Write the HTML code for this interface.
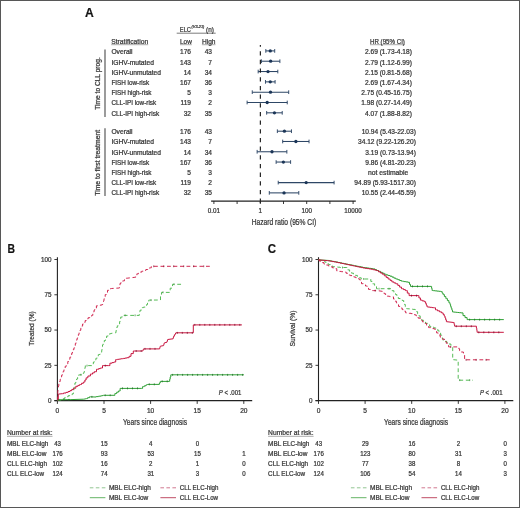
<!DOCTYPE html>
<html><head><meta charset="utf-8"><style>
html,body{margin:0;padding:0;background:#fff;}
svg{display:block;font-family:"Liberation Sans", sans-serif;}
text{-webkit-font-smoothing:antialiased;stroke:#3a3a3a;stroke-width:0.24px;}
</style></head><body>
<svg style="will-change:transform" width="520" height="508" viewBox="0 0 520 508" fill="#333">
<rect x="0.5" y="0.5" width="519" height="507" fill="#fff" stroke="#575757" stroke-width="1"/>
<text x="84.90" y="16.90" font-size="12.1" fill="#111" font-weight="bold">A</text>
<text x="179.80" y="31.60" font-size="6.6" textLength="11.20" lengthAdjust="spacingAndGlyphs">ELC</text>
<text x="191.60" y="28.40" font-size="4.0" textLength="12.80" lengthAdjust="spacingAndGlyphs" font-style="italic">(V3-21)</text>
<text x="206.10" y="31.60" font-size="6.6" textLength="7.80" lengthAdjust="spacingAndGlyphs">(n)</text>
<line x1="176.70" y1="33.20" x2="215.70" y2="33.20" stroke="#444" stroke-width="0.7"/>
<text x="111.20" y="43.70" font-size="6.6" textLength="37.00" lengthAdjust="spacingAndGlyphs">Stratification</text>
<line x1="111.20" y1="44.70" x2="148.20" y2="44.70" stroke="#555" stroke-width="0.5"/>
<text x="180.00" y="43.70" font-size="6.6" textLength="11.80" lengthAdjust="spacingAndGlyphs">Low</text>
<line x1="180.00" y1="44.70" x2="191.80" y2="44.70" stroke="#555" stroke-width="0.5"/>
<text x="201.90" y="43.70" font-size="6.6" textLength="13.60" lengthAdjust="spacingAndGlyphs">High</text>
<line x1="201.90" y1="44.70" x2="215.50" y2="44.70" stroke="#555" stroke-width="0.5"/>
<text x="370.00" y="43.70" font-size="6.6" textLength="34.90" lengthAdjust="spacingAndGlyphs">HR (95% CI)</text>
<line x1="370.00" y1="44.70" x2="404.90" y2="44.70" stroke="#555" stroke-width="0.5"/>
<text x="111.40" y="54.30" font-size="6.6" textLength="21.20" lengthAdjust="spacingAndGlyphs">Overall</text>
<text x="191.00" y="54.30" font-size="6.6" text-anchor="end">176</text>
<text x="212.00" y="54.30" font-size="6.6" text-anchor="end">43</text>
<text x="411.90" y="54.30" font-size="6.6" text-anchor="end">2.69 (1.73-4.18)</text>
<line x1="265.82" y1="50.90" x2="274.71" y2="50.90" stroke="#2e4766" stroke-width="1.05"/>
<line x1="265.82" y1="49.05" x2="265.82" y2="52.75" stroke="#2e4766" stroke-width="0.95"/>
<line x1="274.71" y1="49.05" x2="274.71" y2="52.75" stroke="#2e4766" stroke-width="0.95"/>
<circle cx="270.27" cy="50.90" r="1.65" fill="#1b3557"/>
<text x="111.40" y="64.50" font-size="6.6" textLength="42.50" lengthAdjust="spacingAndGlyphs">IGHV-mutated</text>
<text x="191.00" y="64.50" font-size="6.6" text-anchor="end">143</text>
<text x="212.00" y="64.50" font-size="6.6" text-anchor="end">7</text>
<text x="411.90" y="64.50" font-size="6.6" text-anchor="end">2.79 (1.12-6.99)</text>
<line x1="261.44" y1="61.22" x2="279.89" y2="61.22" stroke="#2e4766" stroke-width="1.05"/>
<line x1="261.44" y1="59.37" x2="261.44" y2="63.07" stroke="#2e4766" stroke-width="0.95"/>
<line x1="279.89" y1="59.37" x2="279.89" y2="63.07" stroke="#2e4766" stroke-width="0.95"/>
<circle cx="270.64" cy="61.22" r="1.65" fill="#1b3557"/>
<text x="111.40" y="74.70" font-size="6.6" textLength="49.60" lengthAdjust="spacingAndGlyphs">IGHV-unmutated</text>
<text x="191.00" y="74.70" font-size="6.6" text-anchor="end">14</text>
<text x="212.00" y="74.70" font-size="6.6" text-anchor="end">34</text>
<text x="411.90" y="74.70" font-size="6.6" text-anchor="end">2.15 (0.81-5.68)</text>
<line x1="258.18" y1="71.54" x2="277.80" y2="71.54" stroke="#2e4766" stroke-width="1.05"/>
<line x1="258.18" y1="69.69" x2="258.18" y2="73.39" stroke="#2e4766" stroke-width="0.95"/>
<line x1="277.80" y1="69.69" x2="277.80" y2="73.39" stroke="#2e4766" stroke-width="0.95"/>
<circle cx="268.01" cy="71.54" r="1.65" fill="#1b3557"/>
<text x="111.40" y="84.90" font-size="6.6" textLength="37.70" lengthAdjust="spacingAndGlyphs">FISH low-risk</text>
<text x="191.00" y="84.90" font-size="6.6" text-anchor="end">167</text>
<text x="212.00" y="84.90" font-size="6.6" text-anchor="end">36</text>
<text x="411.90" y="84.90" font-size="6.6" text-anchor="end">2.69 (1.67-4.34)</text>
<line x1="265.47" y1="81.86" x2="275.09" y2="81.86" stroke="#2e4766" stroke-width="1.05"/>
<line x1="265.47" y1="80.01" x2="265.47" y2="83.71" stroke="#2e4766" stroke-width="0.95"/>
<line x1="275.09" y1="80.01" x2="275.09" y2="83.71" stroke="#2e4766" stroke-width="0.95"/>
<circle cx="270.27" cy="81.86" r="1.65" fill="#1b3557"/>
<text x="111.40" y="95.10" font-size="6.6" textLength="40.10" lengthAdjust="spacingAndGlyphs">FISH high-risk</text>
<text x="191.00" y="95.10" font-size="6.6" text-anchor="end">5</text>
<text x="212.00" y="95.10" font-size="6.6" text-anchor="end">3</text>
<text x="411.90" y="95.10" font-size="6.6" text-anchor="end">2.75 (0.45-16.75)</text>
<line x1="252.25" y1="92.18" x2="288.70" y2="92.18" stroke="#2e4766" stroke-width="1.05"/>
<line x1="252.25" y1="90.33" x2="252.25" y2="94.03" stroke="#2e4766" stroke-width="0.95"/>
<line x1="288.70" y1="90.33" x2="288.70" y2="94.03" stroke="#2e4766" stroke-width="0.95"/>
<circle cx="270.49" cy="92.18" r="1.65" fill="#1b3557"/>
<text x="111.40" y="105.30" font-size="6.6" textLength="44.80" lengthAdjust="spacingAndGlyphs">CLL-IPI low-risk</text>
<text x="191.00" y="105.30" font-size="6.6" text-anchor="end">119</text>
<text x="212.00" y="105.30" font-size="6.6" text-anchor="end">2</text>
<text x="411.90" y="105.30" font-size="6.6" text-anchor="end">1.98 (0.27-14.49)</text>
<line x1="247.11" y1="102.50" x2="287.24" y2="102.50" stroke="#2e4766" stroke-width="1.05"/>
<line x1="247.11" y1="100.65" x2="247.11" y2="104.35" stroke="#2e4766" stroke-width="0.95"/>
<line x1="287.24" y1="100.65" x2="287.24" y2="104.35" stroke="#2e4766" stroke-width="0.95"/>
<circle cx="267.18" cy="102.50" r="1.65" fill="#1b3557"/>
<text x="111.40" y="115.50" font-size="6.6" textLength="47.70" lengthAdjust="spacingAndGlyphs">CLL-IPI high-risk</text>
<text x="191.00" y="115.50" font-size="6.6" text-anchor="end">32</text>
<text x="212.00" y="115.50" font-size="6.6" text-anchor="end">35</text>
<text x="411.90" y="115.50" font-size="6.6" text-anchor="end">4.07 (1.88-8.82)</text>
<line x1="266.66" y1="112.82" x2="282.23" y2="112.82" stroke="#2e4766" stroke-width="1.05"/>
<line x1="266.66" y1="110.97" x2="266.66" y2="114.67" stroke="#2e4766" stroke-width="0.95"/>
<line x1="282.23" y1="110.97" x2="282.23" y2="114.67" stroke="#2e4766" stroke-width="0.95"/>
<circle cx="274.44" cy="112.82" r="1.65" fill="#1b3557"/>
<text x="111.40" y="134.20" font-size="6.6" textLength="21.20" lengthAdjust="spacingAndGlyphs">Overall</text>
<text x="191.00" y="134.20" font-size="6.6" text-anchor="end">176</text>
<text x="212.00" y="134.20" font-size="6.6" text-anchor="end">43</text>
<text x="415.90" y="134.20" font-size="6.6" text-anchor="end">10.94 (5.43-22.03)</text>
<line x1="277.35" y1="131.20" x2="291.46" y2="131.20" stroke="#2e4766" stroke-width="1.05"/>
<line x1="277.35" y1="129.35" x2="277.35" y2="133.05" stroke="#2e4766" stroke-width="0.95"/>
<line x1="291.46" y1="129.35" x2="291.46" y2="133.05" stroke="#2e4766" stroke-width="0.95"/>
<circle cx="284.41" cy="131.20" r="1.65" fill="#1b3557"/>
<text x="111.40" y="144.40" font-size="6.6" textLength="42.50" lengthAdjust="spacingAndGlyphs">IGHV-mutated</text>
<text x="191.00" y="144.40" font-size="6.6" text-anchor="end">143</text>
<text x="212.00" y="144.40" font-size="6.6" text-anchor="end">7</text>
<text x="415.90" y="144.40" font-size="6.6" text-anchor="end">34.12 (9.22-126.20)</text>
<line x1="282.68" y1="141.48" x2="309.04" y2="141.48" stroke="#2e4766" stroke-width="1.05"/>
<line x1="282.68" y1="139.63" x2="282.68" y2="143.33" stroke="#2e4766" stroke-width="0.95"/>
<line x1="309.04" y1="139.63" x2="309.04" y2="143.33" stroke="#2e4766" stroke-width="0.95"/>
<circle cx="295.87" cy="141.48" r="1.65" fill="#1b3557"/>
<text x="111.40" y="154.60" font-size="6.6" textLength="49.60" lengthAdjust="spacingAndGlyphs">IGHV-unmutated</text>
<text x="191.00" y="154.60" font-size="6.6" text-anchor="end">14</text>
<text x="212.00" y="154.60" font-size="6.6" text-anchor="end">34</text>
<text x="415.90" y="154.60" font-size="6.6" text-anchor="end">3.19 (0.73-13.94)</text>
<line x1="257.13" y1="151.76" x2="286.85" y2="151.76" stroke="#2e4766" stroke-width="1.05"/>
<line x1="257.13" y1="149.91" x2="257.13" y2="153.61" stroke="#2e4766" stroke-width="0.95"/>
<line x1="286.85" y1="149.91" x2="286.85" y2="153.61" stroke="#2e4766" stroke-width="0.95"/>
<circle cx="271.99" cy="151.76" r="1.65" fill="#1b3557"/>
<text x="111.40" y="164.80" font-size="6.6" textLength="37.70" lengthAdjust="spacingAndGlyphs">FISH low-risk</text>
<text x="191.00" y="164.80" font-size="6.6" text-anchor="end">167</text>
<text x="212.00" y="164.80" font-size="6.6" text-anchor="end">36</text>
<text x="415.90" y="164.80" font-size="6.6" text-anchor="end">9.86 (4.81-20.23)</text>
<line x1="276.13" y1="162.04" x2="290.60" y2="162.04" stroke="#2e4766" stroke-width="1.05"/>
<line x1="276.13" y1="160.19" x2="276.13" y2="163.89" stroke="#2e4766" stroke-width="0.95"/>
<line x1="290.60" y1="160.19" x2="290.60" y2="163.89" stroke="#2e4766" stroke-width="0.95"/>
<circle cx="283.36" cy="162.04" r="1.65" fill="#1b3557"/>
<text x="111.40" y="175.00" font-size="6.6" textLength="40.10" lengthAdjust="spacingAndGlyphs">FISH high-risk</text>
<text x="191.00" y="175.00" font-size="6.6" text-anchor="end">5</text>
<text x="212.00" y="175.00" font-size="6.6" text-anchor="end">3</text>
<text x="388.20" y="175.00" font-size="6.6" text-anchor="middle" textLength="40.30" lengthAdjust="spacingAndGlyphs">not estimable</text>
<text x="111.40" y="185.20" font-size="6.6" textLength="44.80" lengthAdjust="spacingAndGlyphs">CLL-IPI low-risk</text>
<text x="191.00" y="185.20" font-size="6.6" text-anchor="end">119</text>
<text x="212.00" y="185.20" font-size="6.6" text-anchor="end">2</text>
<text x="415.90" y="185.20" font-size="6.6" text-anchor="end">94.89 (5.93-1517.30)</text>
<line x1="278.23" y1="182.60" x2="334.10" y2="182.60" stroke="#2e4766" stroke-width="1.05"/>
<line x1="278.23" y1="180.75" x2="278.23" y2="184.45" stroke="#2e4766" stroke-width="0.95"/>
<line x1="334.10" y1="180.75" x2="334.10" y2="184.45" stroke="#2e4766" stroke-width="0.95"/>
<circle cx="306.17" cy="182.60" r="1.65" fill="#1b3557"/>
<text x="111.40" y="195.40" font-size="6.6" textLength="47.70" lengthAdjust="spacingAndGlyphs">CLL-IPI high-risk</text>
<text x="191.00" y="195.40" font-size="6.6" text-anchor="end">32</text>
<text x="212.00" y="195.40" font-size="6.6" text-anchor="end">35</text>
<text x="415.90" y="195.40" font-size="6.6" text-anchor="end">10.55 (2.44-45.59)</text>
<line x1="269.29" y1="192.88" x2="298.79" y2="192.88" stroke="#2e4766" stroke-width="1.05"/>
<line x1="269.29" y1="191.03" x2="269.29" y2="194.73" stroke="#2e4766" stroke-width="0.95"/>
<line x1="298.79" y1="191.03" x2="298.79" y2="194.73" stroke="#2e4766" stroke-width="0.95"/>
<circle cx="284.04" cy="192.88" r="1.65" fill="#1b3557"/>
<line x1="105.00" y1="49.40" x2="105.00" y2="117.00" stroke="#4a4a4a" stroke-width="1.1"/>
<line x1="105.00" y1="128.30" x2="105.00" y2="196.00" stroke="#4a4a4a" stroke-width="1.1"/>
<text x="0.00" y="0.00" font-size="6.6" text-anchor="middle" textLength="52.50" lengthAdjust="spacingAndGlyphs" transform="translate(100.2,83.5) rotate(-90)">Time to CLL prog.</text>
<text x="0.00" y="0.00" font-size="6.6" text-anchor="middle" textLength="65.80" lengthAdjust="spacingAndGlyphs" transform="translate(100.2,162.8) rotate(-90)">Time to first treatment</text>
<line x1="260.35" y1="45.00" x2="260.35" y2="203.00" stroke="#111" stroke-width="1.1" stroke-dasharray="4.3,4.37" stroke-dashoffset="2.47"/>
<line x1="211.10" y1="201.05" x2="355.80" y2="201.05" stroke="#222" stroke-width="1.2"/>
<line x1="213.90" y1="201.05" x2="213.90" y2="204.00" stroke="#222" stroke-width="0.9"/>
<line x1="237.10" y1="201.05" x2="237.10" y2="204.00" stroke="#222" stroke-width="0.9"/>
<line x1="260.30" y1="201.05" x2="260.30" y2="204.00" stroke="#222" stroke-width="0.9"/>
<line x1="283.50" y1="201.05" x2="283.50" y2="204.00" stroke="#222" stroke-width="0.9"/>
<line x1="306.70" y1="201.05" x2="306.70" y2="204.00" stroke="#222" stroke-width="0.9"/>
<line x1="329.90" y1="201.05" x2="329.90" y2="204.00" stroke="#222" stroke-width="0.9"/>
<line x1="353.10" y1="201.05" x2="353.10" y2="204.00" stroke="#222" stroke-width="0.9"/>
<text x="213.90" y="212.80" font-size="6.3" text-anchor="middle">0.01</text>
<text x="260.30" y="212.80" font-size="6.3" text-anchor="middle">1</text>
<text x="306.70" y="212.80" font-size="6.3" text-anchor="middle">100</text>
<text x="353.10" y="212.80" font-size="6.3" text-anchor="middle">10000</text>
<text x="284.00" y="224.80" font-size="8.4" text-anchor="middle" textLength="64.50" lengthAdjust="spacingAndGlyphs">Hazard ratio (95% CI)</text>
<text x="7.50" y="252.80" font-size="12.0" fill="#111" font-weight="bold" textLength="7.50" lengthAdjust="spacingAndGlyphs">B</text>
<line x1="57.40" y1="257.20" x2="57.40" y2="400.60" stroke="#222" stroke-width="1.1"/>
<line x1="54.40" y1="400.60" x2="252.20" y2="400.60" stroke="#222" stroke-width="1.2"/>
<line x1="54.40" y1="400.60" x2="57.40" y2="400.60" stroke="#222" stroke-width="0.9"/>
<text x="51.50" y="402.80" font-size="6.3" text-anchor="end">0</text>
<line x1="57.40" y1="400.60" x2="57.40" y2="403.90" stroke="#222" stroke-width="0.9"/>
<text x="57.40" y="412.80" font-size="6.6" text-anchor="middle">0</text>
<line x1="54.40" y1="365.33" x2="57.40" y2="365.33" stroke="#222" stroke-width="0.9"/>
<text x="51.50" y="367.53" font-size="6.3" text-anchor="end">25</text>
<line x1="104.00" y1="400.60" x2="104.00" y2="403.90" stroke="#222" stroke-width="0.9"/>
<text x="104.00" y="412.80" font-size="6.6" text-anchor="middle">5</text>
<line x1="54.40" y1="330.05" x2="57.40" y2="330.05" stroke="#222" stroke-width="0.9"/>
<text x="51.50" y="332.25" font-size="6.3" text-anchor="end">50</text>
<line x1="150.60" y1="400.60" x2="150.60" y2="403.90" stroke="#222" stroke-width="0.9"/>
<text x="150.60" y="412.80" font-size="6.6" text-anchor="middle">10</text>
<line x1="54.40" y1="294.78" x2="57.40" y2="294.78" stroke="#222" stroke-width="0.9"/>
<text x="51.50" y="296.98" font-size="6.3" text-anchor="end">75</text>
<line x1="197.20" y1="400.60" x2="197.20" y2="403.90" stroke="#222" stroke-width="0.9"/>
<text x="197.20" y="412.80" font-size="6.6" text-anchor="middle">15</text>
<line x1="54.40" y1="259.50" x2="57.40" y2="259.50" stroke="#222" stroke-width="0.9"/>
<text x="51.50" y="261.70" font-size="6.3" text-anchor="end">100</text>
<line x1="243.80" y1="400.60" x2="243.80" y2="403.90" stroke="#222" stroke-width="0.9"/>
<text x="243.80" y="412.80" font-size="6.6" text-anchor="middle">20</text>
<text x="0.00" y="0.00" font-size="7.4" text-anchor="middle" textLength="34.30" lengthAdjust="spacingAndGlyphs" transform="translate(33.8,328.5) rotate(-90)">Treated (%)</text>
<text x="155.00" y="424.80" font-size="8.8" text-anchor="middle" textLength="64.00" lengthAdjust="spacingAndGlyphs">Years since diagnosis</text>
<text x="218.80" y="395.00" font-size="6.4" textLength="22.60" lengthAdjust="spacingAndGlyphs"><tspan font-style="italic">P</tspan> &lt; .001</text>
<path d="M57.4,399.8 L70.9,399.6 L83.8,399.2 L86.7,398.6 L87.6,398.6 L87.6,397.7 L89.5,397.7 L89.5,396.8 L90.4,396.8 L95.0,397.0 L96.2,397.0 L96.2,396.6 L98.5,396.6 L98.5,396.2 L100.8,396.2 L100.8,395.8 L101.9,395.8 L103.7,395.3 L114.0,395.3 L114.9,395.3 L114.9,393.5 L115.8,393.5 L116.7,393.5 L116.7,392.2 L118.4,392.2 L118.4,391.0 L119.2,391.0 L120.1,391.0 L120.1,388.4 L121.0,388.4 L141.7,388.4 L142.6,388.4 L142.6,386.6 L143.4,386.6 L144.3,386.6 L144.3,385.8 L146.0,385.8 L146.0,384.9 L146.9,384.9 L147.8,384.4 L159.0,384.4 L159.4,384.4 L159.4,382.9 L160.3,382.9 L160.3,381.4 L160.7,381.4 L169.4,381.4 L169.7,381.4 L169.7,379.2 L170.2,379.2 L170.2,377.0 L170.8,377.0 L170.8,374.8 L171.1,374.8 L243.9,374.8" fill="none" stroke="#2ea034" stroke-width="1.0" stroke-linejoin="miter"/>
<path d="M57.4,400.3 L62.0,399.8 L62.9,399.8 L62.9,398.8 L64.6,398.8 L64.6,397.7 L66.3,397.7 L66.3,396.7 L67.2,396.7 L68.2,396.7 L68.2,395.7 L70.2,395.7 L70.2,394.7 L72.3,394.7 L72.3,393.7 L73.3,393.7 L73.5,393.7 L73.5,391.6 L73.8,391.6 L73.8,389.4 L74.0,389.4 L74.0,387.3 L74.3,387.3 L74.3,385.1 L74.5,385.1 L74.9,385.1 L74.9,383.1 L75.8,383.1 L75.8,381.0 L76.6,381.0 L76.6,379.0 L77.0,379.0 L77.6,379.0 L77.6,376.9 L78.8,376.9 L78.8,374.8 L79.4,374.8 L83.0,374.8 L83.3,374.8 L83.3,373.2 L84.0,373.2 L84.0,371.7 L84.3,371.7 L84.5,371.7 L84.5,369.7 L84.9,369.7 L84.9,367.6 L85.3,367.6 L85.3,365.6 L85.5,365.6 L91.6,365.6 L92.2,365.6 L92.2,363.8 L93.4,363.8 L93.4,362.0 L94.0,362.0 L94.6,362.0 L94.6,360.1 L95.9,360.1 L95.9,358.3 L96.5,358.3 L97.1,358.3 L97.1,356.5 L98.3,356.5 L98.3,354.6 L98.9,354.6 L101.3,354.0 L101.4,354.0 L101.4,352.2 L101.7,352.2 L101.7,350.4 L102.0,350.4 L102.0,348.5 L102.2,348.5 L102.2,346.7 L102.5,346.7 L102.5,344.9 L102.6,344.9 L103.2,344.9 L103.2,342.7 L104.3,342.7 L104.3,340.5 L105.5,340.5 L105.5,338.3 L106.6,338.3 L106.6,336.1 L107.2,336.1 L108.1,336.1 L108.1,334.8 L109.8,334.8 L109.8,333.5 L110.7,333.5 L115.8,332.7 L116.0,332.7 L116.0,331.0 L116.2,331.0 L116.2,329.2 L116.5,329.2 L116.5,327.5 L116.7,327.5 L117.3,327.5 L117.3,325.8 L118.6,325.8 L118.6,324.0 L119.3,324.0 L119.6,324.0 L119.6,321.7 L120.1,321.7 L120.1,319.4 L120.7,319.4 L120.7,317.1 L121.0,317.1 L122.3,317.1 L122.3,315.4 L123.6,315.4 L139.2,315.4 L139.3,315.4 L139.3,313.7 L139.7,313.7 L139.7,311.9 L140.0,311.9 L140.0,310.2 L140.1,310.2 L141.4,310.2 L141.4,307.6 L142.7,307.6 L143.5,307.6 L143.5,307.1 L145.2,307.1 L145.2,306.7 L146.1,306.7 L146.6,306.7 L146.6,304.5 L147.5,304.5 L147.5,302.4 L147.9,302.4 L148.8,302.4 L148.8,300.1 L149.6,300.1 L160.5,300.0 L160.5,296.6 L161.5,296.6 L161.5,292.4 L170.2,292.4 L170.2,288.2 L172.5,288.2 L172.5,284.3 L182.3,284.3" fill="none" stroke="#4db84d" stroke-width="0.95" stroke-linejoin="miter" stroke-dasharray="3.8,2.7"/>
<path d="M58.3,400.3 L58.3,394.1 L62.3,393.7 L63.5,393.7 L63.5,393.0 L66.0,393.0 L66.0,392.4 L67.2,392.4 L68.1,392.4 L68.1,391.5 L70.0,391.5 L70.0,390.6 L70.9,390.6 L71.8,390.6 L71.8,389.4 L73.6,389.4 L73.6,388.2 L74.5,388.2 L75.8,388.2 L75.8,386.3 L77.0,386.3 L77.9,386.3 L77.9,385.4 L79.7,385.4 L79.7,384.5 L80.6,384.5 L81.5,384.5 L81.5,383.3 L83.4,383.3 L83.4,382.1 L84.3,382.1 L84.9,382.1 L84.9,380.0 L86.1,380.0 L86.1,377.8 L86.7,377.8 L87.9,377.8 L87.9,376.0 L90.4,376.0 L90.4,374.1 L91.6,374.1 L92.5,374.1 L92.5,372.9 L94.3,372.9 L94.3,371.7 L95.2,371.7 L96.5,371.7 L96.5,369.3 L97.7,369.3 L98.6,369.3 L98.6,368.6 L100.4,368.6 L100.4,368.0 L101.3,368.0 L102.5,368.0 L102.5,365.6 L103.8,365.6 L108.7,365.6 L109.9,365.6 L109.9,363.2 L111.1,363.2 L112.0,363.2 L112.0,362.6 L113.9,362.6 L113.9,362.0 L114.8,362.0 L115.7,362.0 L115.7,359.6 L116.5,359.6 L117.5,359.6 L117.5,359.3 L119.4,359.3 L119.4,359.0 L121.3,359.0 L121.3,358.7 L122.3,358.7 L123.3,358.7 L123.3,358.4 L125.2,358.4 L125.2,358.0 L127.1,358.0 L127.1,357.7 L128.1,357.7 L129.1,357.7 L129.1,356.3 L130.0,356.3 L131.0,356.3 L131.0,353.6 L132.0,353.6 L133.3,353.6 L133.3,351.0 L134.7,351.0 L142.8,351.0 L143.5,348.9 L159.6,348.9 L160.3,346.2 L163.6,345.6 L164.3,342.9 L167.0,342.2 L167.7,339.5 L173.1,338.8 L173.7,336.2 L174.4,336.2 L174.4,334.8 L175.1,334.8 L175.8,332.8 L193.3,332.8 L193.3,324.9 L241.9,324.9" fill="none" stroke="#c8143f" stroke-width="1.0" stroke-linejoin="miter"/>
<path d="M57.6,400.3 L57.8,392.0 L58.5,386.0 L58.8,386.0 L58.8,383.8 L59.5,383.8 L59.5,381.5 L60.2,381.5 L60.2,379.2 L60.9,379.2 L60.9,377.0 L61.2,377.0 L61.6,377.0 L61.6,375.2 L62.4,375.2 L62.4,373.3 L63.1,373.3 L63.1,371.5 L63.5,371.5 L63.9,371.5 L63.9,369.8 L64.5,369.8 L64.5,368.0 L65.2,368.0 L65.2,366.3 L65.6,366.3 L66.3,366.3 L66.3,363.9 L67.8,363.9 L67.8,361.5 L68.5,361.5 L69.0,361.5 L69.0,359.3 L69.9,359.3 L69.9,357.2 L70.8,357.2 L70.8,355.0 L71.3,355.0 L71.7,355.0 L71.7,353.2 L72.4,353.2 L72.4,351.5 L73.2,351.5 L73.2,349.7 L73.9,349.7 L73.9,347.9 L74.3,347.9 L74.6,347.9 L74.6,345.8 L75.3,345.8 L75.3,343.6 L76.0,343.6 L76.0,341.5 L76.3,341.5 L76.6,341.5 L76.6,339.7 L77.2,339.7 L77.2,338.0 L77.8,338.0 L77.8,336.2 L78.4,336.2 L78.4,334.4 L78.7,334.4 L79.1,334.4 L79.1,332.3 L80.0,332.3 L80.0,330.2 L80.8,330.2 L80.8,328.2 L81.7,328.2 L81.7,326.1 L82.6,326.1 L82.6,324.0 L83.0,324.0 L83.7,324.0 L83.7,322.3 L85.2,322.3 L85.2,320.5 L86.6,320.5 L86.6,318.8 L87.3,318.8 L88.2,318.8 L88.2,317.7 L89.9,317.7 L89.9,316.5 L91.6,316.5 L91.6,315.4 L92.5,315.4 L92.8,315.4 L92.8,313.6 L93.5,313.6 L93.5,311.9 L94.1,311.9 L94.1,310.1 L94.8,310.1 L94.8,308.4 L95.1,308.4 L96.4,308.4 L96.4,305.8 L97.7,305.8 L98.6,305.8 L98.6,305.4 L100.3,305.4 L100.3,305.0 L102.0,305.0 L102.0,304.6 L102.9,304.6 L103.7,300.7 L104.0,300.7 L104.0,298.7 L104.6,298.7 L104.6,296.6 L105.2,296.6 L105.2,294.6 L105.5,294.6 L106.2,294.6 L106.2,292.5 L107.5,292.5 L107.5,290.3 L108.1,290.3 L108.9,290.3 L108.9,289.4 L110.6,289.4 L110.6,288.5 L111.5,288.5 L119.3,288.0 L119.5,288.0 L119.5,285.7 L120.0,285.7 L120.0,283.4 L120.2,283.4 L121.0,283.4 L121.0,282.1 L122.8,282.1 L122.8,280.8 L123.6,280.8 L124.5,280.8 L124.5,279.5 L126.2,279.5 L126.2,278.2 L127.1,278.2 L134.9,277.3 L135.6,277.3 L135.6,275.6 L136.9,275.6 L136.9,273.8 L137.5,273.8 L138.4,273.8 L138.4,272.9 L140.1,272.9 L140.1,272.1 L141.8,272.1 L141.8,271.2 L142.7,271.2 L143.8,271.2 L143.8,270.4 L145.9,270.4 L145.9,269.5 L147.0,269.5 L147.8,269.5 L147.8,268.6 L149.6,268.6 L149.6,267.8 L150.4,267.8 L151.3,267.8 L151.3,266.3 L152.2,266.3 L210.0,266.3" fill="none" stroke="#cf1c48" stroke-width="0.95" stroke-linejoin="miter" stroke-dasharray="3.8,2.7"/>
<line x1="58.9" y1="398.9" x2="58.9" y2="400.8" stroke="#1f6a25" stroke-width="0.75"/>
<line x1="63.9" y1="398.9" x2="63.9" y2="400.8" stroke="#1f6a25" stroke-width="0.75"/>
<line x1="68.9" y1="398.9" x2="68.9" y2="400.8" stroke="#1f6a25" stroke-width="0.75"/>
<line x1="91.9" y1="395.9" x2="91.9" y2="397.8" stroke="#1f6a25" stroke-width="0.75"/>
<line x1="105.2" y1="394.4" x2="105.2" y2="396.2" stroke="#1f6a25" stroke-width="0.75"/>
<line x1="110.2" y1="394.4" x2="110.2" y2="396.2" stroke="#1f6a25" stroke-width="0.75"/>
<line x1="122.5" y1="387.4" x2="122.5" y2="389.3" stroke="#1f6a25" stroke-width="0.75"/>
<line x1="127.5" y1="387.4" x2="127.5" y2="389.3" stroke="#1f6a25" stroke-width="0.75"/>
<line x1="132.5" y1="387.4" x2="132.5" y2="389.3" stroke="#1f6a25" stroke-width="0.75"/>
<line x1="137.5" y1="387.4" x2="137.5" y2="389.3" stroke="#1f6a25" stroke-width="0.75"/>
<line x1="149.3" y1="383.4" x2="149.3" y2="385.3" stroke="#1f6a25" stroke-width="0.75"/>
<line x1="154.3" y1="383.4" x2="154.3" y2="385.3" stroke="#1f6a25" stroke-width="0.75"/>
<line x1="162.2" y1="380.4" x2="162.2" y2="382.3" stroke="#1f6a25" stroke-width="0.75"/>
<line x1="167.2" y1="380.4" x2="167.2" y2="382.3" stroke="#1f6a25" stroke-width="0.75"/>
<line x1="172.6" y1="373.9" x2="172.6" y2="375.8" stroke="#1f6a25" stroke-width="0.75"/>
<line x1="177.6" y1="373.9" x2="177.6" y2="375.8" stroke="#1f6a25" stroke-width="0.75"/>
<line x1="182.6" y1="373.9" x2="182.6" y2="375.8" stroke="#1f6a25" stroke-width="0.75"/>
<line x1="187.6" y1="373.9" x2="187.6" y2="375.8" stroke="#1f6a25" stroke-width="0.75"/>
<line x1="192.6" y1="373.9" x2="192.6" y2="375.8" stroke="#1f6a25" stroke-width="0.75"/>
<line x1="197.6" y1="373.9" x2="197.6" y2="375.8" stroke="#1f6a25" stroke-width="0.75"/>
<line x1="202.6" y1="373.9" x2="202.6" y2="375.8" stroke="#1f6a25" stroke-width="0.75"/>
<line x1="207.6" y1="373.9" x2="207.6" y2="375.8" stroke="#1f6a25" stroke-width="0.75"/>
<line x1="212.6" y1="373.9" x2="212.6" y2="375.8" stroke="#1f6a25" stroke-width="0.75"/>
<line x1="217.6" y1="373.9" x2="217.6" y2="375.8" stroke="#1f6a25" stroke-width="0.75"/>
<line x1="222.6" y1="373.9" x2="222.6" y2="375.8" stroke="#1f6a25" stroke-width="0.75"/>
<line x1="227.6" y1="373.9" x2="227.6" y2="375.8" stroke="#1f6a25" stroke-width="0.75"/>
<line x1="232.6" y1="373.9" x2="232.6" y2="375.8" stroke="#1f6a25" stroke-width="0.75"/>
<line x1="237.6" y1="373.9" x2="237.6" y2="375.8" stroke="#1f6a25" stroke-width="0.75"/>
<line x1="242.6" y1="373.9" x2="242.6" y2="375.8" stroke="#1f6a25" stroke-width="0.75"/>
<line x1="80.9" y1="373.8" x2="80.9" y2="375.7" stroke="#3a8a3a" stroke-width="0.75"/>
<line x1="87.0" y1="364.7" x2="87.0" y2="366.6" stroke="#3a8a3a" stroke-width="0.75"/>
<line x1="125.1" y1="314.4" x2="125.1" y2="316.3" stroke="#3a8a3a" stroke-width="0.75"/>
<line x1="135.1" y1="314.4" x2="135.1" y2="316.3" stroke="#3a8a3a" stroke-width="0.75"/>
<line x1="151.1" y1="299.2" x2="151.1" y2="301.1" stroke="#3a8a3a" stroke-width="0.75"/>
<line x1="163.0" y1="291.4" x2="163.0" y2="293.3" stroke="#3a8a3a" stroke-width="0.75"/>
<line x1="174.0" y1="283.4" x2="174.0" y2="285.2" stroke="#3a8a3a" stroke-width="0.75"/>
<line x1="105.3" y1="364.7" x2="105.3" y2="366.6" stroke="#7a0d2a" stroke-width="0.75"/>
<line x1="136.2" y1="350.1" x2="136.2" y2="351.9" stroke="#7a0d2a" stroke-width="0.75"/>
<line x1="141.2" y1="350.1" x2="141.2" y2="351.9" stroke="#7a0d2a" stroke-width="0.75"/>
<line x1="145.0" y1="347.9" x2="145.0" y2="349.8" stroke="#7a0d2a" stroke-width="0.75"/>
<line x1="150.0" y1="347.9" x2="150.0" y2="349.8" stroke="#7a0d2a" stroke-width="0.75"/>
<line x1="155.0" y1="347.9" x2="155.0" y2="349.8" stroke="#7a0d2a" stroke-width="0.75"/>
<line x1="177.3" y1="331.9" x2="177.3" y2="333.8" stroke="#7a0d2a" stroke-width="0.75"/>
<line x1="182.3" y1="331.9" x2="182.3" y2="333.8" stroke="#7a0d2a" stroke-width="0.75"/>
<line x1="187.3" y1="331.9" x2="187.3" y2="333.8" stroke="#7a0d2a" stroke-width="0.75"/>
<line x1="192.3" y1="331.9" x2="192.3" y2="333.8" stroke="#7a0d2a" stroke-width="0.75"/>
<line x1="194.8" y1="323.9" x2="194.8" y2="325.8" stroke="#7a0d2a" stroke-width="0.75"/>
<line x1="199.8" y1="323.9" x2="199.8" y2="325.8" stroke="#7a0d2a" stroke-width="0.75"/>
<line x1="204.8" y1="323.9" x2="204.8" y2="325.8" stroke="#7a0d2a" stroke-width="0.75"/>
<line x1="209.8" y1="323.9" x2="209.8" y2="325.8" stroke="#7a0d2a" stroke-width="0.75"/>
<line x1="214.8" y1="323.9" x2="214.8" y2="325.8" stroke="#7a0d2a" stroke-width="0.75"/>
<line x1="219.8" y1="323.9" x2="219.8" y2="325.8" stroke="#7a0d2a" stroke-width="0.75"/>
<line x1="224.8" y1="323.9" x2="224.8" y2="325.8" stroke="#7a0d2a" stroke-width="0.75"/>
<line x1="229.8" y1="323.9" x2="229.8" y2="325.8" stroke="#7a0d2a" stroke-width="0.75"/>
<line x1="234.8" y1="323.9" x2="234.8" y2="325.8" stroke="#7a0d2a" stroke-width="0.75"/>
<line x1="239.8" y1="323.9" x2="239.8" y2="325.8" stroke="#7a0d2a" stroke-width="0.75"/>
<line x1="153.7" y1="265.4" x2="153.7" y2="267.2" stroke="#8a1530" stroke-width="0.75"/>
<line x1="163.7" y1="265.4" x2="163.7" y2="267.2" stroke="#8a1530" stroke-width="0.75"/>
<line x1="173.7" y1="265.4" x2="173.7" y2="267.2" stroke="#8a1530" stroke-width="0.75"/>
<line x1="183.7" y1="265.4" x2="183.7" y2="267.2" stroke="#8a1530" stroke-width="0.75"/>
<line x1="193.7" y1="265.4" x2="193.7" y2="267.2" stroke="#8a1530" stroke-width="0.75"/>
<line x1="203.7" y1="265.4" x2="203.7" y2="267.2" stroke="#8a1530" stroke-width="0.75"/>
<text x="7.00" y="435.20" font-size="6.6" textLength="45.50" lengthAdjust="spacingAndGlyphs">Number at risk:</text>
<line x1="7.00" y1="436.30" x2="52.50" y2="436.30" stroke="#555" stroke-width="0.5"/>
<text x="7.00" y="445.70" font-size="6.6" textLength="41.30" lengthAdjust="spacingAndGlyphs">MBL ELC-high</text>
<text x="57.60" y="445.70" font-size="6.6" text-anchor="middle" textLength="6.80" lengthAdjust="spacingAndGlyphs">43</text>
<text x="104.20" y="445.70" font-size="6.6" text-anchor="middle" textLength="6.80" lengthAdjust="spacingAndGlyphs">15</text>
<text x="150.80" y="445.70" font-size="6.6" text-anchor="middle" textLength="3.40" lengthAdjust="spacingAndGlyphs">4</text>
<text x="197.40" y="445.70" font-size="6.6" text-anchor="middle" textLength="3.40" lengthAdjust="spacingAndGlyphs">0</text>
<text x="7.00" y="455.87" font-size="6.6" textLength="39.30" lengthAdjust="spacingAndGlyphs">MBL ELC-low</text>
<text x="57.60" y="455.87" font-size="6.6" text-anchor="middle" textLength="10.20" lengthAdjust="spacingAndGlyphs">176</text>
<text x="104.20" y="455.87" font-size="6.6" text-anchor="middle" textLength="6.80" lengthAdjust="spacingAndGlyphs">93</text>
<text x="150.80" y="455.87" font-size="6.6" text-anchor="middle" textLength="6.80" lengthAdjust="spacingAndGlyphs">53</text>
<text x="197.40" y="455.87" font-size="6.6" text-anchor="middle" textLength="6.80" lengthAdjust="spacingAndGlyphs">15</text>
<text x="244.00" y="455.87" font-size="6.6" text-anchor="middle" textLength="3.40" lengthAdjust="spacingAndGlyphs">1</text>
<text x="7.00" y="466.04" font-size="6.6" textLength="40.00" lengthAdjust="spacingAndGlyphs">CLL ELC-high</text>
<text x="57.60" y="466.04" font-size="6.6" text-anchor="middle" textLength="10.20" lengthAdjust="spacingAndGlyphs">102</text>
<text x="104.20" y="466.04" font-size="6.6" text-anchor="middle" textLength="6.80" lengthAdjust="spacingAndGlyphs">16</text>
<text x="150.80" y="466.04" font-size="6.6" text-anchor="middle" textLength="3.40" lengthAdjust="spacingAndGlyphs">2</text>
<text x="197.40" y="466.04" font-size="6.6" text-anchor="middle" textLength="3.40" lengthAdjust="spacingAndGlyphs">1</text>
<text x="244.00" y="466.04" font-size="6.6" text-anchor="middle" textLength="3.40" lengthAdjust="spacingAndGlyphs">0</text>
<text x="7.00" y="476.21" font-size="6.6" textLength="37.00" lengthAdjust="spacingAndGlyphs">CLL ELC-low</text>
<text x="57.60" y="476.21" font-size="6.6" text-anchor="middle" textLength="10.20" lengthAdjust="spacingAndGlyphs">124</text>
<text x="104.20" y="476.21" font-size="6.6" text-anchor="middle" textLength="6.80" lengthAdjust="spacingAndGlyphs">74</text>
<text x="150.80" y="476.21" font-size="6.6" text-anchor="middle" textLength="6.80" lengthAdjust="spacingAndGlyphs">31</text>
<text x="197.40" y="476.21" font-size="6.6" text-anchor="middle" textLength="3.40" lengthAdjust="spacingAndGlyphs">3</text>
<text x="244.00" y="476.21" font-size="6.6" text-anchor="middle" textLength="3.40" lengthAdjust="spacingAndGlyphs">0</text>
<line x1="89.80" y1="487.80" x2="105.40" y2="487.80" stroke="#86c086" stroke-width="0.9" stroke-dasharray="3.6,2.4"/>
<line x1="89.80" y1="497.70" x2="105.40" y2="497.70" stroke="#55ad55" stroke-width="0.9"/>
<line x1="160.40" y1="487.80" x2="176.00" y2="487.80" stroke="#cc6a84" stroke-width="0.9" stroke-dasharray="3.6,2.4"/>
<line x1="160.40" y1="497.70" x2="176.00" y2="497.70" stroke="#b83a55" stroke-width="0.9"/>
<text x="108.90" y="490.30" font-size="6.6" textLength="42.00" lengthAdjust="spacingAndGlyphs">MBL ELC-high</text>
<text x="108.90" y="500.00" font-size="6.6" textLength="39.40" lengthAdjust="spacingAndGlyphs">MBL ELC-low</text>
<text x="179.80" y="490.30" font-size="6.6" textLength="38.60" lengthAdjust="spacingAndGlyphs">CLL ELC-high</text>
<text x="179.80" y="500.00" font-size="6.6" textLength="38.30" lengthAdjust="spacingAndGlyphs">CLL ELC-Low</text>
<text x="267.80" y="252.80" font-size="12.0" fill="#111" font-weight="bold" textLength="8.30" lengthAdjust="spacingAndGlyphs">C</text>
<line x1="318.50" y1="257.20" x2="318.50" y2="400.60" stroke="#222" stroke-width="1.1"/>
<line x1="315.50" y1="400.60" x2="513.30" y2="400.60" stroke="#222" stroke-width="1.2"/>
<line x1="315.50" y1="400.60" x2="318.50" y2="400.60" stroke="#222" stroke-width="0.9"/>
<text x="312.60" y="402.80" font-size="6.3" text-anchor="end">0</text>
<line x1="318.50" y1="400.60" x2="318.50" y2="403.90" stroke="#222" stroke-width="0.9"/>
<text x="318.50" y="412.80" font-size="6.6" text-anchor="middle">0</text>
<line x1="315.50" y1="365.33" x2="318.50" y2="365.33" stroke="#222" stroke-width="0.9"/>
<text x="312.60" y="367.53" font-size="6.3" text-anchor="end">25</text>
<line x1="365.10" y1="400.60" x2="365.10" y2="403.90" stroke="#222" stroke-width="0.9"/>
<text x="365.10" y="412.80" font-size="6.6" text-anchor="middle">5</text>
<line x1="315.50" y1="330.05" x2="318.50" y2="330.05" stroke="#222" stroke-width="0.9"/>
<text x="312.60" y="332.25" font-size="6.3" text-anchor="end">50</text>
<line x1="411.70" y1="400.60" x2="411.70" y2="403.90" stroke="#222" stroke-width="0.9"/>
<text x="411.70" y="412.80" font-size="6.6" text-anchor="middle">10</text>
<line x1="315.50" y1="294.78" x2="318.50" y2="294.78" stroke="#222" stroke-width="0.9"/>
<text x="312.60" y="296.98" font-size="6.3" text-anchor="end">75</text>
<line x1="458.30" y1="400.60" x2="458.30" y2="403.90" stroke="#222" stroke-width="0.9"/>
<text x="458.30" y="412.80" font-size="6.6" text-anchor="middle">15</text>
<line x1="315.50" y1="259.50" x2="318.50" y2="259.50" stroke="#222" stroke-width="0.9"/>
<text x="312.60" y="261.70" font-size="6.3" text-anchor="end">100</text>
<line x1="504.90" y1="400.60" x2="504.90" y2="403.90" stroke="#222" stroke-width="0.9"/>
<text x="504.90" y="412.80" font-size="6.6" text-anchor="middle">20</text>
<text x="0.00" y="0.00" font-size="7.4" text-anchor="middle" textLength="36.00" lengthAdjust="spacingAndGlyphs" transform="translate(294.9,328.5) rotate(-90)">Survival (%)</text>
<text x="416.10" y="424.80" font-size="8.8" text-anchor="middle" textLength="64.00" lengthAdjust="spacingAndGlyphs">Years since diagnosis</text>
<text x="479.90" y="395.00" font-size="6.4" textLength="22.60" lengthAdjust="spacingAndGlyphs"><tspan font-style="italic">P</tspan> &lt; .001</text>
<path d="M318.5,259.9 L327.5,260.4 L328.5,260.4 L328.5,260.7 L330.4,260.7 L330.4,261.0 L332.3,261.0 L332.3,261.4 L334.2,261.4 L334.2,261.7 L335.2,261.7 L336.2,261.7 L336.2,262.1 L338.1,262.1 L338.1,262.5 L340.0,262.5 L340.0,262.9 L341.9,262.9 L341.9,263.3 L343.8,263.3 L343.8,263.7 L344.8,263.7 L345.8,263.7 L345.8,264.1 L347.7,264.1 L347.7,264.5 L349.6,264.5 L349.6,264.8 L351.6,264.8 L351.6,265.2 L353.5,265.2 L353.5,265.6 L354.5,265.6 L355.5,265.6 L355.5,266.0 L357.4,266.0 L357.4,266.4 L359.3,266.4 L359.3,266.7 L361.2,266.7 L361.2,267.1 L363.1,267.1 L363.1,267.5 L364.1,267.5 L365.1,267.5 L365.1,267.8 L367.0,267.8 L367.0,268.0 L368.9,268.0 L368.9,268.3 L370.8,268.3 L370.8,268.5 L372.7,268.5 L372.7,268.8 L373.7,268.8 L374.7,268.8 L374.7,269.6 L376.6,269.6 L376.6,270.5 L378.5,270.5 L378.5,271.3 L379.5,271.3 L380.4,271.3 L380.4,272.3 L382.3,272.3 L382.3,273.2 L384.2,273.2 L384.2,274.2 L385.2,274.2 L386.2,274.2 L386.2,274.9 L388.1,274.9 L388.1,275.5 L390.0,275.5 L390.0,276.2 L391.0,276.2 L392.0,276.2 L392.0,277.1 L393.9,277.1 L393.9,278.1 L395.8,278.1 L395.8,279.0 L396.8,279.0 L397.8,279.0 L397.8,279.7 L399.6,279.7 L399.6,280.5 L401.5,280.5 L401.5,281.2 L402.5,281.2 L403.6,281.2 L403.6,281.6 L405.8,281.6 L405.8,281.9 L407.9,281.9 L407.9,282.3 L409.0,282.3 L409.5,282.3 L409.5,284.4 L410.5,284.4 L410.5,286.4 L411.0,286.4 L431.4,286.4 L431.6,286.4 L431.6,288.4 L432.1,288.4 L432.1,290.5 L432.4,290.5 L433.3,290.5 L433.3,290.7 L435.2,290.7 L435.2,290.9 L437.0,290.9 L437.0,291.1 L438.8,291.1 L438.8,291.3 L440.7,291.3 L440.7,291.5 L441.6,291.5 L442.1,291.5 L442.1,293.1 L443.1,293.1 L443.1,294.6 L443.6,294.6 L444.4,294.6 L444.4,296.6 L445.9,296.6 L445.9,298.6 L446.7,298.6 L447.4,298.6 L447.4,300.6 L448.9,300.6 L448.9,302.7 L449.7,302.7 L450.0,302.7 L450.0,304.5 L450.6,304.5 L450.6,306.4 L451.2,306.4 L451.2,308.2 L451.9,308.2 L451.9,310.1 L452.5,310.1 L452.5,311.9 L452.8,311.9 L453.7,311.9 L453.7,312.1 L455.6,312.1 L455.6,312.3 L457.4,312.3 L457.4,312.5 L459.2,312.5 L459.2,312.7 L461.1,312.7 L461.1,312.9 L462.0,312.9 L463.0,312.9 L463.0,315.6 L464.0,315.6 L465.0,315.6 L465.0,317.6 L467.1,317.6 L467.1,319.6 L468.1,319.6 L503.8,319.6" fill="none" stroke="#2ea034" stroke-width="1.0" stroke-linejoin="miter"/>
<path d="M318.5,259.9 L319.4,259.9 L319.4,260.2 L321.2,260.2 L321.2,260.5 L323.1,260.5 L323.1,260.8 L324.0,260.8 L324.9,260.8 L324.9,262.2 L326.6,262.2 L326.6,263.7 L327.5,263.7 L328.5,263.7 L328.5,264.6 L330.4,264.6 L330.4,265.6 L332.3,265.6 L332.3,266.5 L333.3,266.5 L334.3,266.5 L334.3,266.8 L336.2,266.8 L336.2,267.0 L338.1,267.0 L338.1,267.2 L340.0,267.2 L340.0,267.5 L341.0,267.5 L346.8,267.5 L347.8,267.5 L347.8,269.9 L349.6,269.9 L349.6,272.3 L350.6,272.3 L351.6,272.3 L351.6,273.2 L353.5,273.2 L353.5,274.2 L354.5,274.2 L355.5,274.2 L355.5,275.4 L357.4,275.4 L357.4,276.6 L359.3,276.6 L359.3,277.8 L361.2,277.8 L361.2,279.0 L362.2,279.0 L369.8,279.0 L370.8,279.0 L370.8,281.4 L372.7,281.4 L372.7,283.8 L373.7,283.8 L374.6,283.8 L374.6,286.2 L376.5,286.2 L376.5,288.7 L377.5,288.7 L391.0,288.7 L391.9,288.7 L391.9,290.7 L393.9,290.7 L393.9,292.7 L394.8,292.7 L395.5,292.7 L395.5,294.6 L396.9,294.6 L396.9,296.6 L398.3,296.6 L398.3,298.5 L399.0,298.5 L400.1,298.5 L400.1,299.5 L402.2,299.5 L402.2,300.5 L403.3,300.5 L403.7,300.5 L403.7,302.5 L404.5,302.5 L404.5,304.5 L405.3,304.5 L405.3,306.6 L406.1,306.6 L406.1,308.6 L406.5,308.6 L407.4,308.6 L407.4,308.8 L409.3,308.8 L409.3,309.0 L411.2,309.0 L411.2,309.2 L413.1,309.2 L413.1,309.4 L415.0,309.4 L415.0,309.6 L416.0,309.6 L416.5,309.6 L416.5,311.7 L417.6,311.7 L417.6,313.8 L418.1,313.8 L418.8,313.8 L418.8,315.9 L420.2,315.9 L420.2,318.1 L421.6,318.1 L421.6,320.2 L422.3,320.2 L423.4,320.2 L423.4,321.8 L425.5,321.8 L425.5,323.3 L427.6,323.3 L427.6,324.9 L429.7,324.9 L429.7,326.5 L430.8,326.5 L431.9,326.5 L431.9,327.2 L434.0,327.2 L434.0,328.0 L436.1,328.0 L436.1,328.7 L437.1,328.7 L437.8,328.7 L437.8,330.8 L439.2,330.8 L439.2,332.9 L440.6,332.9 L440.6,335.0 L441.3,335.0 L441.7,335.0 L441.7,336.8 L442.4,336.8 L442.4,338.5 L443.1,338.5 L443.1,340.3 L443.5,340.3 L444.6,340.3 L444.6,341.4 L446.6,341.4 L446.6,342.4 L447.7,342.4 L448.8,342.4 L448.8,344.0 L450.9,344.0 L450.9,345.6 L451.9,345.6 L452.7,346.9 L452.7,359.6 L458.2,360.2 L458.2,380.2 L472.9,380.2" fill="none" stroke="#4db84d" stroke-width="0.95" stroke-linejoin="miter" stroke-dasharray="3.8,2.7"/>
<path d="M318.5,259.9 L327.5,260.6 L328.5,260.6 L328.5,260.9 L330.4,260.9 L330.4,261.2 L332.3,261.2 L332.3,261.6 L334.2,261.6 L334.2,261.9 L335.2,261.9 L336.2,261.9 L336.2,262.3 L338.1,262.3 L338.1,262.7 L340.0,262.7 L340.0,263.1 L341.9,263.1 L341.9,263.5 L343.8,263.5 L343.8,263.9 L344.8,263.9 L345.8,263.9 L345.8,264.3 L347.7,264.3 L347.7,264.7 L349.6,264.7 L349.6,265.2 L351.6,265.2 L351.6,265.6 L353.5,265.6 L353.5,266.0 L354.5,266.0 L355.5,266.0 L355.5,266.4 L357.4,266.4 L357.4,266.8 L359.3,266.8 L359.3,267.2 L361.2,267.2 L361.2,267.6 L363.1,267.6 L363.1,268.0 L364.1,268.0 L365.1,268.0 L365.1,268.3 L367.1,268.3 L367.1,268.6 L369.0,268.6 L369.0,268.9 L371.0,268.9 L371.0,269.2 L372.0,269.2 L372.9,269.2 L372.9,269.7 L374.8,269.7 L374.8,270.1 L376.6,270.1 L376.6,270.6 L377.5,270.6 L378.5,270.6 L378.5,271.8 L380.4,271.8 L380.4,273.0 L382.3,273.0 L382.3,274.2 L383.3,274.2 L384.3,274.2 L384.3,275.8 L386.2,275.8 L386.2,277.4 L388.1,277.4 L388.1,279.0 L389.1,279.0 L390.1,279.0 L390.1,280.4 L391.9,280.4 L391.9,281.9 L392.9,281.9 L393.9,281.9 L393.9,282.9 L395.8,282.9 L395.8,283.8 L396.8,283.8 L397.8,283.8 L397.8,285.4 L399.6,285.4 L399.6,287.1 L401.5,287.1 L401.5,288.7 L402.5,288.7 L403.5,288.7 L403.5,289.6 L405.4,289.6 L405.4,290.6 L406.4,290.6 L407.3,290.6 L407.3,293.1 L409.1,293.1 L409.1,295.6 L410.0,295.6 L418.2,295.6 L418.9,295.6 L418.9,297.9 L420.4,297.9 L420.4,300.1 L421.2,300.1 L422.2,300.1 L422.2,300.9 L424.3,300.9 L424.3,301.7 L425.3,301.7 L425.6,301.7 L425.6,303.4 L426.3,303.4 L426.3,305.1 L427.0,305.1 L427.0,306.8 L427.3,306.8 L428.2,306.8 L428.2,307.1 L430.0,307.1 L430.0,307.3 L431.8,307.3 L431.8,307.6 L433.6,307.6 L433.6,307.8 L434.5,307.8 L435.5,307.8 L435.5,309.8 L436.5,309.8 L437.5,309.8 L437.5,310.8 L439.6,310.8 L439.6,311.9 L441.6,311.9 L441.6,312.9 L442.6,312.9 L443.1,312.9 L443.1,314.4 L444.2,314.4 L444.2,316.0 L444.7,316.0 L445.0,316.0 L445.0,317.9 L445.7,317.9 L445.7,319.8 L446.4,319.8 L446.4,321.7 L446.7,321.7 L453.8,322.5 L454.1,322.5 L454.1,324.4 L454.6,324.4 L454.6,326.2 L454.8,326.2 L476.2,326.2 L476.4,326.2 L476.4,328.2 L476.8,328.2 L476.8,330.3 L477.1,330.3 L477.1,332.3 L477.3,332.3 L503.8,332.3" fill="none" stroke="#c8143f" stroke-width="1.0" stroke-linejoin="miter"/>
<path d="M318.5,259.9 L319.6,259.9 L319.6,261.2 L320.6,261.2 L321.8,261.2 L321.8,262.6 L324.0,262.6 L324.0,264.1 L325.2,264.1 L326.2,264.1 L326.2,265.0 L328.3,265.0 L328.3,265.9 L330.4,265.9 L330.4,266.9 L332.5,266.9 L332.5,267.8 L334.6,267.8 L334.6,268.7 L335.6,268.7 L336.8,268.7 L336.8,271.0 L337.9,271.0 L339.0,271.0 L339.0,271.4 L341.3,271.4 L341.3,271.7 L343.6,271.7 L343.6,272.1 L344.8,272.1 L346.2,272.1 L346.2,273.3 L347.7,273.3 L348.5,273.3 L348.5,275.0 L349.4,275.0 L350.3,275.0 L350.3,275.6 L352.0,275.6 L352.0,276.2 L352.9,276.2 L353.8,276.2 L353.8,277.0 L355.7,277.0 L355.7,277.7 L357.6,277.7 L357.6,278.5 L358.5,278.5 L359.1,278.5 L359.1,279.6 L359.8,279.6 L360.4,279.6 L360.4,281.6 L361.5,281.6 L361.5,283.7 L362.1,283.7 L363.2,283.7 L363.2,284.9 L365.5,284.9 L365.5,286.0 L366.7,286.0 L367.3,286.0 L367.3,287.7 L368.5,287.7 L368.5,289.4 L369.1,289.4 L370.2,289.4 L370.2,290.0 L372.5,290.0 L372.5,290.6 L373.7,290.6 L377.5,290.6 L383.3,291.5 L384.1,291.5 L384.1,293.7 L385.6,293.7 L385.6,295.9 L386.3,295.9 L387.4,295.9 L387.4,296.2 L389.5,296.2 L389.5,296.6 L391.6,296.6 L391.6,296.9 L392.7,296.9 L393.5,296.9 L393.5,299.0 L395.1,299.0 L395.1,301.2 L395.9,301.2 L396.4,301.2 L396.4,302.9 L397.4,302.9 L397.4,304.7 L398.5,304.7 L398.5,306.4 L399.0,306.4 L400.1,306.4 L400.1,308.0 L402.2,308.0 L402.2,309.6 L403.3,309.6 L404.1,309.6 L404.1,311.2 L405.6,311.2 L405.6,312.8 L406.4,312.8 L407.3,312.8 L407.3,313.1 L409.2,313.1 L409.2,313.3 L411.0,313.3 L411.0,313.6 L412.9,313.6 L412.9,313.8 L413.8,313.8 L414.6,313.8 L414.6,314.9 L416.2,314.9 L416.2,316.0 L417.0,316.0 L418.1,316.0 L418.1,318.1 L420.2,318.1 L420.2,320.2 L421.3,320.2 L422.4,320.2 L422.4,321.8 L424.5,321.8 L424.5,323.4 L425.5,323.4 L426.6,323.4 L426.6,325.5 L428.6,325.5 L428.6,327.6 L429.7,327.6 L430.6,327.6 L430.6,328.1 L432.3,328.1 L432.3,328.6 L434.1,328.6 L434.1,329.1 L435.0,329.1 L435.5,329.1 L435.5,331.0 L436.6,331.0 L436.6,332.9 L437.1,332.9 L438.2,332.9 L438.2,335.0 L440.2,335.0 L440.2,337.1 L441.3,337.1 L442.4,337.1 L442.4,339.2 L444.5,339.2 L444.5,341.3 L445.6,341.3 L446.2,341.3 L446.2,343.2 L447.4,343.2 L447.4,345.0 L448.6,345.0 L448.6,346.9 L449.2,346.9 L458.5,346.9 L458.9,346.9 L458.9,348.9 L459.6,348.9 L459.6,350.8 L460.0,350.8 L461.1,350.8 L461.1,352.0 L463.4,352.0 L463.4,353.1 L464.6,353.1 L464.6,359.8 L490.5,359.8" fill="none" stroke="#cf1c48" stroke-width="0.95" stroke-linejoin="miter" stroke-dasharray="3.8,2.7"/>
<line x1="412.5" y1="285.4" x2="412.5" y2="287.3" stroke="#1f6a25" stroke-width="0.75"/>
<line x1="417.5" y1="285.4" x2="417.5" y2="287.3" stroke="#1f6a25" stroke-width="0.75"/>
<line x1="422.5" y1="285.4" x2="422.5" y2="287.3" stroke="#1f6a25" stroke-width="0.75"/>
<line x1="427.5" y1="285.4" x2="427.5" y2="287.3" stroke="#1f6a25" stroke-width="0.75"/>
<line x1="469.6" y1="318.7" x2="469.6" y2="320.6" stroke="#1f6a25" stroke-width="0.75"/>
<line x1="474.6" y1="318.7" x2="474.6" y2="320.6" stroke="#1f6a25" stroke-width="0.75"/>
<line x1="479.6" y1="318.7" x2="479.6" y2="320.6" stroke="#1f6a25" stroke-width="0.75"/>
<line x1="484.6" y1="318.7" x2="484.6" y2="320.6" stroke="#1f6a25" stroke-width="0.75"/>
<line x1="489.6" y1="318.7" x2="489.6" y2="320.6" stroke="#1f6a25" stroke-width="0.75"/>
<line x1="494.6" y1="318.7" x2="494.6" y2="320.6" stroke="#1f6a25" stroke-width="0.75"/>
<line x1="499.6" y1="318.7" x2="499.6" y2="320.6" stroke="#1f6a25" stroke-width="0.75"/>
<line x1="342.5" y1="266.6" x2="342.5" y2="268.4" stroke="#3a8a3a" stroke-width="0.75"/>
<line x1="363.7" y1="278.0" x2="363.7" y2="279.9" stroke="#3a8a3a" stroke-width="0.75"/>
<line x1="379.0" y1="287.8" x2="379.0" y2="289.6" stroke="#3a8a3a" stroke-width="0.75"/>
<line x1="389.0" y1="287.8" x2="389.0" y2="289.6" stroke="#3a8a3a" stroke-width="0.75"/>
<line x1="459.7" y1="379.2" x2="459.7" y2="381.1" stroke="#3a8a3a" stroke-width="0.75"/>
<line x1="469.7" y1="379.2" x2="469.7" y2="381.1" stroke="#3a8a3a" stroke-width="0.75"/>
<line x1="411.5" y1="294.7" x2="411.5" y2="296.6" stroke="#7a0d2a" stroke-width="0.75"/>
<line x1="416.5" y1="294.7" x2="416.5" y2="296.6" stroke="#7a0d2a" stroke-width="0.75"/>
<line x1="456.3" y1="325.3" x2="456.3" y2="327.2" stroke="#7a0d2a" stroke-width="0.75"/>
<line x1="461.3" y1="325.3" x2="461.3" y2="327.2" stroke="#7a0d2a" stroke-width="0.75"/>
<line x1="466.3" y1="325.3" x2="466.3" y2="327.2" stroke="#7a0d2a" stroke-width="0.75"/>
<line x1="471.3" y1="325.3" x2="471.3" y2="327.2" stroke="#7a0d2a" stroke-width="0.75"/>
<line x1="478.8" y1="331.4" x2="478.8" y2="333.3" stroke="#7a0d2a" stroke-width="0.75"/>
<line x1="483.8" y1="331.4" x2="483.8" y2="333.3" stroke="#7a0d2a" stroke-width="0.75"/>
<line x1="488.8" y1="331.4" x2="488.8" y2="333.3" stroke="#7a0d2a" stroke-width="0.75"/>
<line x1="493.8" y1="331.4" x2="493.8" y2="333.3" stroke="#7a0d2a" stroke-width="0.75"/>
<line x1="498.8" y1="331.4" x2="498.8" y2="333.3" stroke="#7a0d2a" stroke-width="0.75"/>
<line x1="375.2" y1="289.7" x2="375.2" y2="291.6" stroke="#8a1530" stroke-width="0.75"/>
<line x1="450.7" y1="346.0" x2="450.7" y2="347.9" stroke="#8a1530" stroke-width="0.75"/>
<line x1="466.1" y1="358.9" x2="466.1" y2="360.8" stroke="#8a1530" stroke-width="0.75"/>
<line x1="476.1" y1="358.9" x2="476.1" y2="360.8" stroke="#8a1530" stroke-width="0.75"/>
<line x1="486.1" y1="358.9" x2="486.1" y2="360.8" stroke="#8a1530" stroke-width="0.75"/>
<text x="268.10" y="435.20" font-size="6.6" textLength="45.50" lengthAdjust="spacingAndGlyphs">Number at risk:</text>
<line x1="268.10" y1="436.30" x2="313.60" y2="436.30" stroke="#555" stroke-width="0.5"/>
<text x="268.10" y="445.70" font-size="6.6" textLength="41.30" lengthAdjust="spacingAndGlyphs">MBL ELC-high</text>
<text x="318.70" y="445.70" font-size="6.6" text-anchor="middle" textLength="6.80" lengthAdjust="spacingAndGlyphs">43</text>
<text x="365.30" y="445.70" font-size="6.6" text-anchor="middle" textLength="6.80" lengthAdjust="spacingAndGlyphs">29</text>
<text x="411.90" y="445.70" font-size="6.6" text-anchor="middle" textLength="6.80" lengthAdjust="spacingAndGlyphs">16</text>
<text x="458.50" y="445.70" font-size="6.6" text-anchor="middle" textLength="3.40" lengthAdjust="spacingAndGlyphs">2</text>
<text x="505.10" y="445.70" font-size="6.6" text-anchor="middle" textLength="3.40" lengthAdjust="spacingAndGlyphs">0</text>
<text x="268.10" y="455.87" font-size="6.6" textLength="39.30" lengthAdjust="spacingAndGlyphs">MBL ELC-low</text>
<text x="318.70" y="455.87" font-size="6.6" text-anchor="middle" textLength="10.20" lengthAdjust="spacingAndGlyphs">176</text>
<text x="365.30" y="455.87" font-size="6.6" text-anchor="middle" textLength="10.20" lengthAdjust="spacingAndGlyphs">123</text>
<text x="411.90" y="455.87" font-size="6.6" text-anchor="middle" textLength="6.80" lengthAdjust="spacingAndGlyphs">80</text>
<text x="458.50" y="455.87" font-size="6.6" text-anchor="middle" textLength="6.80" lengthAdjust="spacingAndGlyphs">31</text>
<text x="505.10" y="455.87" font-size="6.6" text-anchor="middle" textLength="3.40" lengthAdjust="spacingAndGlyphs">3</text>
<text x="268.10" y="466.04" font-size="6.6" textLength="40.00" lengthAdjust="spacingAndGlyphs">CLL ELC-high</text>
<text x="318.70" y="466.04" font-size="6.6" text-anchor="middle" textLength="10.20" lengthAdjust="spacingAndGlyphs">102</text>
<text x="365.30" y="466.04" font-size="6.6" text-anchor="middle" textLength="6.80" lengthAdjust="spacingAndGlyphs">77</text>
<text x="411.90" y="466.04" font-size="6.6" text-anchor="middle" textLength="6.80" lengthAdjust="spacingAndGlyphs">38</text>
<text x="458.50" y="466.04" font-size="6.6" text-anchor="middle" textLength="3.40" lengthAdjust="spacingAndGlyphs">8</text>
<text x="505.10" y="466.04" font-size="6.6" text-anchor="middle" textLength="3.40" lengthAdjust="spacingAndGlyphs">0</text>
<text x="268.10" y="476.21" font-size="6.6" textLength="37.00" lengthAdjust="spacingAndGlyphs">CLL ELC-low</text>
<text x="318.70" y="476.21" font-size="6.6" text-anchor="middle" textLength="10.20" lengthAdjust="spacingAndGlyphs">124</text>
<text x="365.30" y="476.21" font-size="6.6" text-anchor="middle" textLength="10.20" lengthAdjust="spacingAndGlyphs">106</text>
<text x="411.90" y="476.21" font-size="6.6" text-anchor="middle" textLength="6.80" lengthAdjust="spacingAndGlyphs">54</text>
<text x="458.50" y="476.21" font-size="6.6" text-anchor="middle" textLength="6.80" lengthAdjust="spacingAndGlyphs">14</text>
<text x="505.10" y="476.21" font-size="6.6" text-anchor="middle" textLength="3.40" lengthAdjust="spacingAndGlyphs">3</text>
<line x1="350.90" y1="487.80" x2="366.50" y2="487.80" stroke="#86c086" stroke-width="0.9" stroke-dasharray="3.6,2.4"/>
<line x1="350.90" y1="497.70" x2="366.50" y2="497.70" stroke="#55ad55" stroke-width="0.9"/>
<line x1="421.50" y1="487.80" x2="437.10" y2="487.80" stroke="#cc6a84" stroke-width="0.9" stroke-dasharray="3.6,2.4"/>
<line x1="421.50" y1="497.70" x2="437.10" y2="497.70" stroke="#b83a55" stroke-width="0.9"/>
<text x="370.00" y="490.30" font-size="6.6" textLength="42.00" lengthAdjust="spacingAndGlyphs">MBL ELC-high</text>
<text x="370.00" y="500.00" font-size="6.6" textLength="39.40" lengthAdjust="spacingAndGlyphs">MBL ELC-low</text>
<text x="440.90" y="490.30" font-size="6.6" textLength="38.60" lengthAdjust="spacingAndGlyphs">CLL ELC-high</text>
<text x="440.90" y="500.00" font-size="6.6" textLength="38.30" lengthAdjust="spacingAndGlyphs">CLL ELC-Low</text>
</svg>
</body></html>
